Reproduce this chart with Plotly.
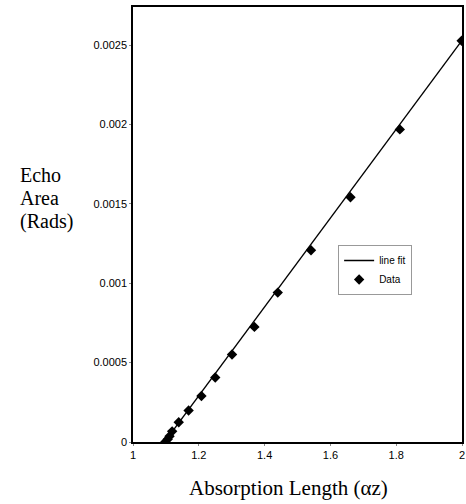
import plotly.graph_objects as go

# Data
data_x = [1.098, 1.1055, 1.111, 1.119, 1.139, 1.169, 1.208, 1.250, 1.301,
          1.369, 1.440, 1.541, 1.661, 1.811, 1.999]
data_y = [0.0, 0.000017, 0.000036, 0.000067, 0.000124, 0.000198, 0.00029,
          0.000406, 0.000551, 0.000725, 0.000941, 0.001208, 0.001542,
          0.001969, 0.002527]

fit_x = [1.096, 2.0]
fit_y = [0.0, 0.00253]

x_ticks = [1, 1.2, 1.4, 1.6, 1.8, 2]
x_tick_text = ["1", "1.2", "1.4", "1.6", "1.8", "2"]
y_ticks = [0, 0.0005, 0.001, 0.0015, 0.002, 0.0025]
y_tick_text = ["0", "0.0005", "0.001", "0.0015", "0.002", "0.0025"]

x_title = "Absorption Length (\u03b1z)"
y_title_lines = ["Echo", "Area", "(Rads)"]

L, R, T, B = 133, 1, 7, 62
W, H = 466, 504
PW, PH = W - L - R, H - T - B

fig = go.Figure()
fig.add_trace(go.Scatter(x=fit_x, y=fit_y, mode="lines", name="line fit",
                         line=dict(color="black", width=1.3)))
fig.add_trace(go.Scatter(x=data_x, y=data_y, mode="markers", name="Data",
                         marker=dict(symbol="diamond", size=8, color="black")))

fig.update_layout(
    width=W, height=H,
    margin=dict(l=L, r=R, t=T, b=B),
    plot_bgcolor="white", paper_bgcolor="white",
    font=dict(family="Liberation Sans, Arial", size=11, color="black"),
    showlegend=True,
    legend=dict(x=(340 - L) / PW, y=(H - B - 245) / PH, xanchor="left", yanchor="top",
                bordercolor="#999", borderwidth=1, bgcolor="white",
                font=dict(family="Liberation Sans, Arial", size=10),
                tracegroupgap=0, itemwidth=30),
    xaxis=dict(range=[1, 2], tickvals=x_ticks, ticktext=x_tick_text,
               showgrid=False, zeroline=False, showline=True,
               linecolor="black", linewidth=1.5, mirror=True,
               ticks="outside", ticklen=2, tickcolor="#888",
               ticklabeloverflow="allow"),
    yaxis=dict(range=[0, 0.00274], tickvals=y_ticks, ticktext=y_tick_text,
               showgrid=False, zeroline=False, showline=True,
               linecolor="black", linewidth=1.5, mirror=True,
               ticks="outside", ticklen=2, tickcolor="#888"),
)

fig.add_annotation(text=x_title, xref="paper", yref="paper",
                   x=(290 - L) / PW, y=(H - B - 488) / PH,
                   xanchor="center", yanchor="middle", showarrow=False,
                   font=dict(family="Liberation Serif, Times New Roman", size=21))

for line_text, cy in zip(y_title_lines, [175, 198, 221]):
    fig.add_annotation(text=line_text, xref="paper", yref="paper",
                       x=(17 - L) / PW, y=(H - B - cy) / PH,
                       xanchor="left", yanchor="middle", showarrow=False,
                       font=dict(family="Liberation Serif, Times New Roman", size=20))

fig.write_html("out.html")
